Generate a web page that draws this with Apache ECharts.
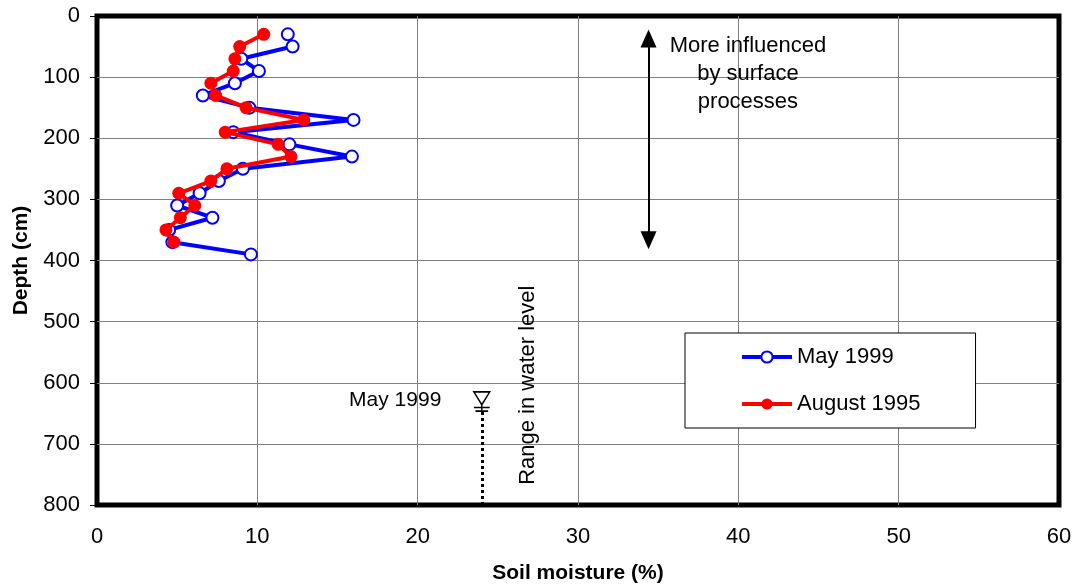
<!DOCTYPE html>
<html>
<head>
<meta charset="utf-8">
<script src="https://cdn.jsdelivr.net/npm/echarts@6/dist/echarts.min.js"></script>
<style>html,body{margin:0;padding:0;background:#fff}#c{width:1074px;height:588px}</style>
</head>
<body>
<div id="c"></div>
<script>
// Depths (cm)
const depthsMay = [30, 50, 70, 90, 110, 130, 150, 170, 190, 210, 230, 250, 270, 290, 310, 330, 350, 370, 390];
const moistureMay = [11.9, 12.2, 9.0, 10.1, 8.6, 6.6, 9.5, 16.0, 8.5, 12.0, 15.9, 9.1, 7.6, 6.4, 5.0, 7.2, 4.5, 4.7, 9.6];
const depthsAug = [30, 50, 70, 90, 110, 130, 150, 170, 190, 210, 230, 250, 270, 290, 310, 330, 350, 370];
const moistureAug = [10.4, 8.9, 8.6, 8.5, 7.1, 7.4, 9.3, 12.9, 8.0, 11.3, 12.1, 8.1, 7.1, 5.1, 6.1, 5.2, 4.3, 4.8];
const seriesNames = ['May 1999', 'August 1995'];
const xTicks = [0, 10, 20, 30, 40, 50, 60];
const yTicks = [0, 100, 200, 300, 400, 500, 600, 700, 800];
// annotation values (data coordinates)
const waterLevelX = 24;
const waterLevelDepth = 621;
const waterLineTop = 648;
const arrowX = 34.4;
const arrowTop = 37;
const arrowBottom = 367;

const FONT = '"Liberation Sans", Arial, sans-serif';
const chart = echarts.init(document.getElementById('c'));

function pair(xs, ys) { return xs.map((x, i) => [x, ys[i]]); }

chart.setOption({
  animation: false,
  backgroundColor: '#fff',
  grid: { left: 97, right: 15, top: 16, bottom: 83, show: true, borderColor: '#000', borderWidth: 5, backgroundColor: 'transparent', containLabel: false, outerBoundsMode: 'none' },
  xAxis: {
    type: 'value', min: xTicks[0], max: xTicks[xTicks.length - 1], interval: 10,
    name: 'Soil moisture (%)', nameLocation: 'middle', nameGap: 58,
    nameTextStyle: { fontFamily: FONT, fontSize: 21, fontWeight: 'bold', color: '#000' },
    axisLine: { show: false }, axisTick: { show: false },
    axisLabel: { fontFamily: FONT, fontSize: 22, color: '#000', margin: 21 },
    splitLine: { show: true, showMinLine: false, showMaxLine: false, lineStyle: { color: '#808080', width: 1 } }
  },
  yAxis: {
    type: 'value', inverse: true, min: yTicks[0], max: yTicks[yTicks.length - 1], interval: 100,
    name: 'Depth (cm)', nameLocation: 'middle', nameGap: 65,
    nameTextStyle: { fontFamily: FONT, fontSize: 21, fontWeight: 'bold', color: '#000' },
    axisLine: { show: false },
    axisTick: { show: true, length: 7, lineStyle: { color: '#000', width: 1 } },
    axisLabel: { fontFamily: FONT, fontSize: 22, color: '#000', margin: 17 },
    splitLine: { show: true, showMinLine: false, showMaxLine: false, lineStyle: { color: '#808080', width: 1 } }
  },
  legend: {
    data: seriesNames,
    orient: 'vertical',
    left: 685, top: 333,
    padding: [13, 55, 13, 55],
    itemGap: 25,
    itemWidth: 50, itemHeight: 14,
    borderColor: '#000', borderWidth: 1, backgroundColor: '#fff',
    lineStyle: { width: 4 },
    textStyle: { fontFamily: FONT, fontSize: 22, color: '#000' }
  },
  series: [
    {
      name: seriesNames[0], type: 'line', data: pair(moistureMay, depthsMay),
      symbol: 'circle', symbolSize: 12, z: 3,
      lineStyle: { color: '#0000ff', width: 4 },
      itemStyle: { color: '#fff', borderColor: '#0000ff', borderWidth: 2 }
    },
    {
      name: seriesNames[1], type: 'line', data: pair(moistureAug, depthsAug),
      symbol: 'circle', symbolSize: 13, z: 4,
      lineStyle: { color: '#ff0000', width: 4 },
      itemStyle: { color: '#ff0000', borderColor: '#ff0000', borderWidth: 0 }
    },
    {
      name: 'annotations', type: 'scatter', data: [], z: 5, silent: true,
      markLine: {
        silent: true, animation: false,
        label: { show: false },
        data: [
          [
            { coord: [arrowX, arrowTop], symbol: 'triangle', symbolSize: [16, 18], lineStyle: { color: '#000', width: 2, type: 'solid' } },
            { coord: [arrowX, arrowBottom], symbol: 'triangle', symbolSize: [16, 18] }
          ],
          [
            { coord: [waterLevelX, waterLineTop], symbol: 'none', lineStyle: { color: '#000', width: 3, type: [3, 3] } },
            { coord: [waterLevelX, 800], symbol: 'none' }
          ]
        ]
      },
      markPoint: {
        silent: true, animation: false,
        data: [
          {
            coord: [waterLevelX, waterLevelDepth + 12],
            symbol: 'path://M0,0 L20,0 L10,14 Z M0,17 L20,17 M2,21 L18,21 M10,13 L10,24',
            symbolSize: [19, 22], symbolKeepAspect: true,
            itemStyle: { color: '#fff', borderColor: '#000', borderWidth: 1.5 },
            label: { show: false }
          },
          {
            coord: [18.6, 628], symbol: 'rect', symbolSize: 0,
            label: { show: true, position: 'inside', formatter: 'May 1999', fontFamily: FONT, fontSize: 21, color: '#000' }
          },
          {
            coord: [26.9, 604], symbol: 'rect', symbolSize: 0,
            label: { show: true, position: 'inside', rotate: 90, formatter: 'Range in water level', fontFamily: FONT, fontSize: 22, color: '#000' }
          },
          {
            coord: [40.6, 94], symbol: 'rect', symbolSize: 0,
            label: { show: true, position: 'inside', formatter: 'More influenced\nby surface\nprocesses', fontFamily: FONT, fontSize: 22, lineHeight: 28, color: '#000', align: 'center' }
          }
        ]
      }
    }
  ]
});
</script>
</body>
</html>
